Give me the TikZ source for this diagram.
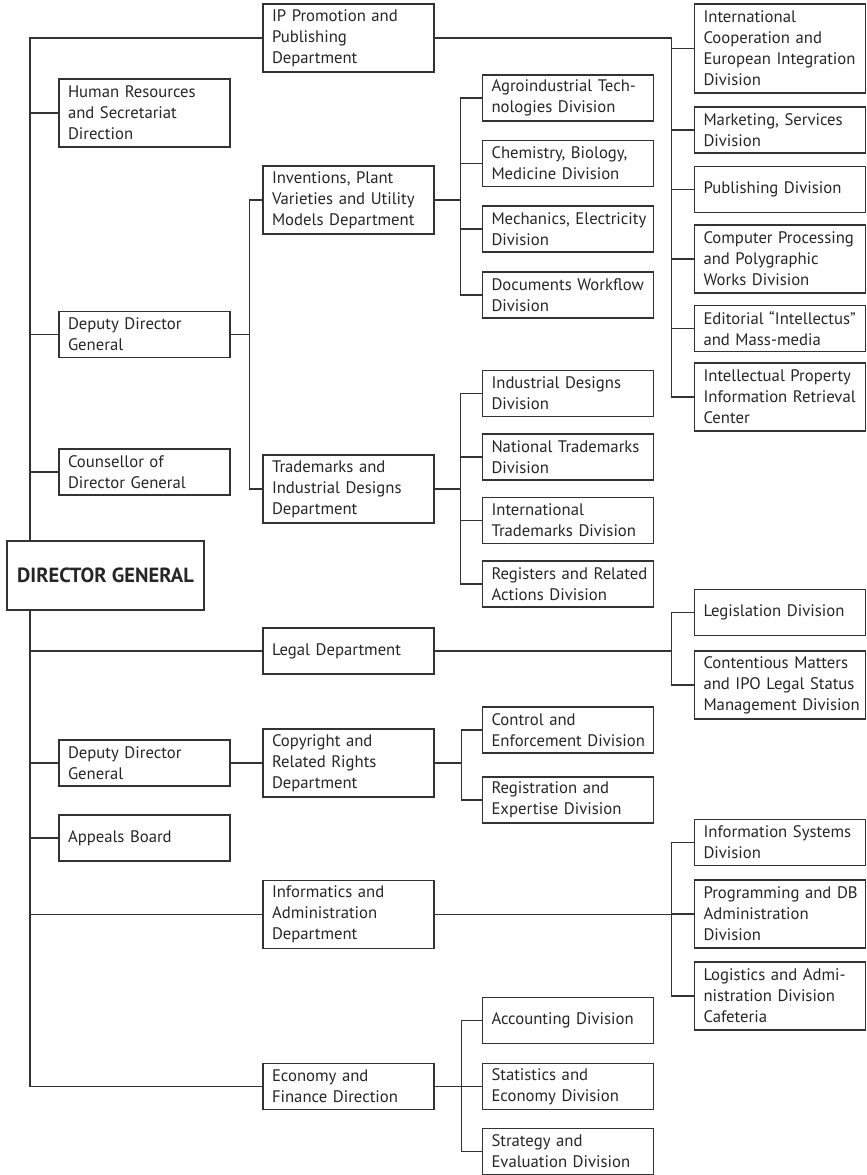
\documentclass[tikz,border=0pt]{standalone}
\usepackage{fontspec}
\setmainfont{PT Sans}
\hfuzz=20pt
\usetikzlibrary{calc}

\begin{document}
\begin{tikzpicture}[x=1pt, y=-1pt,
  box/.style={draw=black!80, line width=1.2pt, text=black!85,
    font=\fontsize{16.7}{21}\selectfont, align=left,
    text width=162pt, inner xsep=4.5pt, inner ysep=0pt, minimum height=46pt,
    execute at begin node={\leftskip=4.5pt\hyphenpenalty=10000}},
  tall/.style={box, minimum height=68pt},
  line/.style={draw=black!80, line width=1.2pt}]
  \useasboundingbox (0,0) rectangle (867,1175);

  % head of the office
  \node[draw=black!80, line width=1.2pt, text=black!85, minimum width=197pt,
    minimum height=69pt, font=\fontsize{20.5}{24}\selectfont\bfseries] (dg) at (105.5,575.5) {DIRECTOR GENERAL};

  % left column
  \node[tall] (hr)      at (144.5,113)   {Human Resources\\and Secretariat\\Direction};
  \node[box]  (dep1)    at (144.5,334.5) {Deputy Director\\General};
  \node[box]  (couns)   at (144.5,472)   {Counsellor of\\Director General};
  \node[box]  (dep2)    at (144.5,763)   {Deputy Director\\General};
  \node[box]  (appeals) at (144.5,838)   {Appeals Board};

  % departments
  \node[tall] (ipp)   at (348.5,38)     {IP Promotion and\\Publishing\\Department};
  \node[tall] (inv)   at (348.5,200)    {Inventions, Plant\\Varieties and Utility\\Models Department};
  \node[tall] (tmk)   at (348.5,489)    {Trademarks and\\Industrial Designs\\Department};
  \node[box]  (legal) at (348.5,651)    {Legal Department};
  \node[tall] (copy)  at (348.5,763)    {Copyright and\\Related Rights\\Department};
  \node[tall] (infor) at (348.5,914.5)  {Informatics and\\Administration\\Department};
  \node[box]  (econ)  at (348.5,1086.5) {Economy and\\Finance Direction};

  % divisions, middle column
  \node[box] (agro)    at (568,98)     {Agroindustrial Tech-\\nologies Division};
  \node[box] (chem)    at (568,163.5)  {Chemistry, Biology,\\Medicine Division};
  \node[box] (mech)    at (568,229)    {Mechanics, Electricity\\Division};
  \node[box] (docs)    at (568,295)    {Documents Workflow\\Division};
  \node[box] (inddes)  at (568,393.5)  {Industrial Designs\\Division};
  \node[box] (natl)    at (568,457)    {National Trademarks\\Division};
  \node[box] (intl)    at (568,520.5)  {International\\Trademarks Division};
  \node[box] (regs)    at (568,584)    {Registers and Related\\Actions Division};
  \node[box] (control) at (568,730)    {Control and\\Enforcement Division};
  \node[box] (regexp)  at (568,800)    {Registration and\\Expertise Division};
  \node[box] (acc)     at (568,1020.5) {Accounting Division};
  \node[box] (stat)    at (568,1086.5) {Statistics and\\Economy Division};
  \node[box] (strat)   at (568,1151.5) {Strategy and\\Evaluation Division};

  % divisions, right column
  \node[box, minimum height=89pt] (coop) at (780,48.5) {International\\Cooperation and\\European Integration\\Division};
  \node[box]  (mkt)     at (780,130)   {Marketing, Services\\Division};
  \node[box]  (pub)     at (780,189.5) {Publishing Division};
  \node[tall] (comp)    at (780,259)   {Computer Processing\\and Polygraphic\\Works Division};
  \node[box]  (edit)    at (780,328.5) {Editorial “Intellectus”\\and Mass-media};
  \node[tall] (iprc)    at (780,397)   {Intellectual Property\\Information Retrieval\\Center};
  \node[box]  (legis)   at (780,612.5) {Legislation Division};
  \node[tall] (content) at (780,685)   {Contentious Matters\\and IPO Legal Status\\Management Division};
  \node[box]  (infsys)  at (780,842.5) {Information Systems\\Division};
  \node[tall] (prog)    at (780,914)   {Programming and DB\\Administration\\Division};
  \node[tall] (logi)    at (780,996)   {Logistics and Admi-\\nistration Division\\Cafeteria};

  % main trunk
  \coordinate (trunk) at (30,38);
  \draw[line] (ipp.west) -- (trunk) -- (trunk |- dg.north);
  \draw[line] (dg.south -| trunk) |- (econ.west);
  \foreach \n in {hr,dep1,couns,legal,dep2,appeals,infor}
    \draw[line] (\n.west) -- (\n.west -| trunk);

  % deputies
  \draw[line] (dep1.east) -- ++(19,0) coordinate (b1);
  \draw[line] (inv.west) -| (b1) |- (tmk.west);
  \draw[line] (dep2.east) -- (copy.west);

  % department to divisions
  \foreach \n in {coop,mkt,pub,comp,edit,iprc}
    \draw[line] (ipp.east) -- ++(237,0) |- (\n.west);
  \foreach \n in {agro,chem,mech,docs}
    \draw[line] (inv.east) -- ++(26,0) |- (\n.west);
  \foreach \n in {inddes,natl,intl,regs}
    \draw[line] (tmk.east) -- ++(26,0) |- (\n.west);
  \foreach \n in {legis,content}
    \draw[line] (legal.east) -- ++(237,0) |- (\n.west);
  \foreach \n in {control,regexp}
    \draw[line] (copy.east) -- ++(27,0) |- (\n.west);
  \foreach \n in {infsys,prog,logi}
    \draw[line] (infor.east) -- ++(237,0) |- (\n.west);
  \foreach \n in {acc,stat,strat}
    \draw[line] (econ.east) -- ++(27,0) |- (\n.west);
\end{tikzpicture}
\end{document}
